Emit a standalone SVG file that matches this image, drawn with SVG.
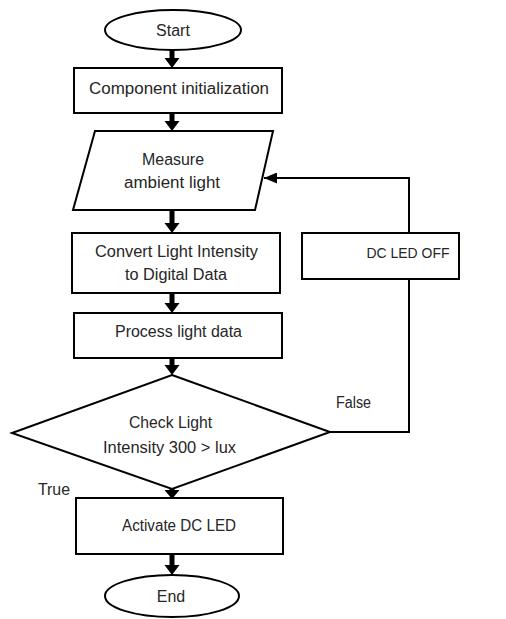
<svg xmlns="http://www.w3.org/2000/svg" width="506" height="619" viewBox="0 0 506 619">
<style>
.shape{fill:#ffffff;stroke:#000000;stroke-width:2}
.t{font-family:"Liberation Sans",Arial,sans-serif;font-size:16px;fill:#262626;text-anchor:middle}
.lbl{font-family:"Liberation Sans",Arial,sans-serif;font-size:16px;fill:#262626}
.arrow{fill:#000000}
.line{fill:none;stroke:#000000;stroke-width:2}
</style>
<defs>
<marker id="ah" markerUnits="userSpaceOnUse" markerWidth="13" markerHeight="11" viewBox="0 0 13 11" refX="13" refY="5.5" orient="auto">
<path d="M0,0 L13,5.5 L0,11 z" fill="#000000"/>
</marker>
</defs>
<rect width="506" height="619" fill="#ffffff"/>
<g id="connectors">
<path class="arrow" d="M169.5,50 h5 v8 h5 l-7.5,10 l-7.5,-10 h5 z"/>
<path class="arrow" d="M169.5,113 h5 v8 h5 l-7.5,10 l-7.5,-10 h5 z"/>
<path class="arrow" d="M169.5,210 h5 v13 h5 l-7.5,10 l-7.5,-10 h5 z"/>
<path class="arrow" d="M169.5,293 h5 v10 h5 l-7.5,10 l-7.5,-10 h5 z"/>
<path class="arrow" d="M169.5,358 h5 v7 h5 l-7.5,10 l-7.5,-10 h5 z"/>
<path class="arrow" d="M169.5,488 h5 v2 h5 l-7.5,9 l-7.5,-9 h5 z"/>
<path class="arrow" d="M169.5,554 h5 v11 h5 l-7.5,10 l-7.5,-10 h5 z"/>
<polyline class="line" points="330,432 409,432 409,279"/>
<polyline class="line" points="409,233 409,178 264,178" marker-end="url(#ah)"/>
<text class="lbl" x="336" y="408" textLength="35" lengthAdjust="spacingAndGlyphs">False</text>
<text class="lbl" x="38" y="495" textLength="32" lengthAdjust="spacingAndGlyphs">True</text>
</g>
<g id="start">
<ellipse class="shape" cx="173" cy="30" rx="68" ry="20"/>
<text class="t" x="173" y="36">Start</text>
</g>
<g id="init">
<rect class="shape" x="74" y="68" width="208" height="45"/>
<text class="t" x="179" y="94" textLength="180" lengthAdjust="spacingAndGlyphs">Component initialization</text>
</g>
<g id="measure">
<polygon class="shape" points="95,131 273,131 255,210 73,210"/>
<text class="t" x="173" y="165" textLength="62" lengthAdjust="spacingAndGlyphs">Measure</text>
<text class="t" x="172" y="188" textLength="96" lengthAdjust="spacingAndGlyphs">ambient light</text>
</g>
<g id="convert">
<rect class="shape" x="72" y="233" width="208" height="60"/>
<text class="t" x="176.5" y="257" textLength="163" lengthAdjust="spacingAndGlyphs">Convert Light Intensity</text>
<text class="t" x="176" y="280" textLength="102" lengthAdjust="spacingAndGlyphs">to Digital Data</text>
</g>
<g id="process">
<rect class="shape" x="74" y="313" width="208" height="45"/>
<text class="t" x="178.5" y="337" textLength="127" lengthAdjust="spacingAndGlyphs">Process light data</text>
</g>
<g id="ledoff">
<rect class="shape" x="302" y="233" width="157" height="46"/>
<text class="t" x="408" y="258" style="font-size:14.5px" textLength="83" lengthAdjust="spacingAndGlyphs">DC LED OFF</text>
</g>
<g id="check">
<polygon class="shape" points="172,375 330,432 172,489 12,433"/>
<text class="t" x="170.5" y="428" textLength="83" lengthAdjust="spacingAndGlyphs">Check Light</text>
<text class="t" x="169.5" y="453" textLength="133" lengthAdjust="spacingAndGlyphs">Intensity 300 &gt; lux</text>
</g>
<g id="activate">
<rect class="shape" x="76" y="498" width="207" height="56"/>
<text class="t" x="179" y="531" textLength="114" lengthAdjust="spacingAndGlyphs">Activate DC LED</text>
</g>
<g id="end">
<ellipse class="shape" cx="172" cy="596" rx="67" ry="21"/>
<text class="t" x="171" y="602">End</text>
</g>
</svg>
